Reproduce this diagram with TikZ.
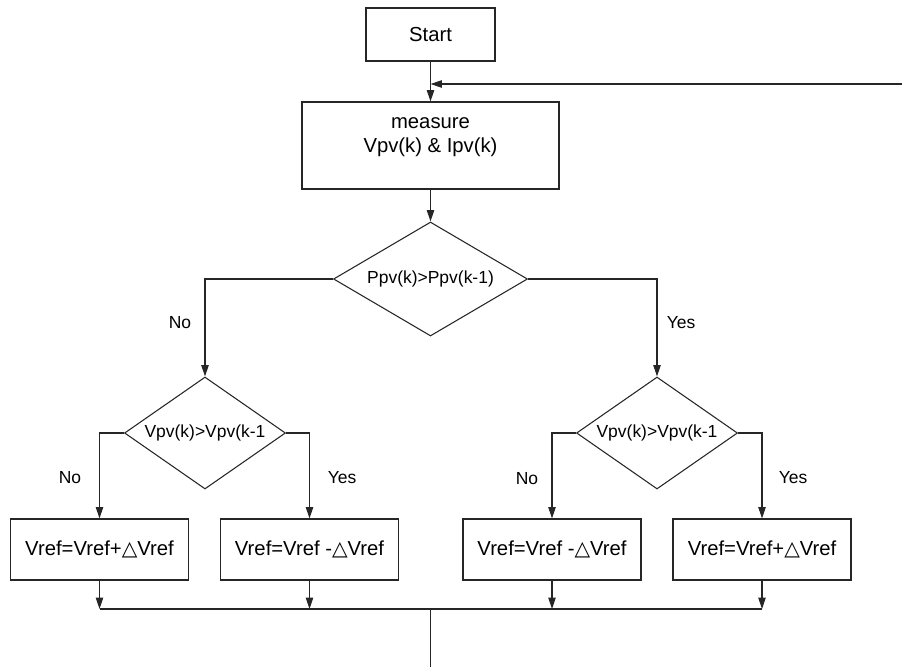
\documentclass[tikz,border=0pt]{standalone}
\usepackage{fontspec}
\setmainfont{Liberation Sans}
\newfontfamily\dvfont{DejaVu Sans}
\usetikzlibrary{shapes.geometric,arrows.meta}
\newcommand{\dtri}{{\dvfont\char"25B3}}
\tikzset{
  x=0.75pt, y=-0.75pt,
  every node/.style={inner sep=0pt},
  small/.style={font=\fontsize{13.1}{18}\selectfont},
  big/.style={font=\fontsize{15.2}{18}\selectfont},
  lin/.style={line width=0.8pt, draw=black!85},
  arr/.style={lin, -{Triangle[length=8.5pt,width=5.5pt]}},
  box/.style={big, draw=black!85, line width=0.8pt, rectangle, minimum width=133.5pt, minimum height=45.75pt},
  decide/.style={small, draw=black!85, line width=0.8pt, diamond, aspect=1.44, minimum width=120.75pt, minimum height=84pt},
  lbl/.style={small}
}
\begin{document}
\begin{tikzpicture}
\useasboundingbox (0,0) rectangle (902,667);
% nodes
\node[box, minimum width=96.75pt, minimum height=39.75pt] (start) at (430.5,34.5) {Start};
\node[box, minimum width=192.75pt, minimum height=65.25pt] (meas) at (430.5,145.5) {};
\node[big, align=center] (meastext) at (430.5,137) {measure\\Vpv(k) \& Ipv(k)};
\node[decide, aspect=1.7, minimum width=145.5pt, minimum height=85.5pt] (d1) at (430.5,279) {Ppv(k)>Ppv(k-1)};
\node[decide] (d2) at (205,433) {Vpv(k)>Vpv(k-1};
\node[decide] (d3) at (657,433) {Vpv(k)>Vpv(k-1};
\node[box] (b1) at (99.5,549.5) {Vref=Vref+\dtri Vref};
\node[box] (b2) at (309.5,549.5) {Vref=Vref -\dtri Vref};
\node[box] (b3) at (552,549.5) {Vref=Vref -\dtri Vref};
\node[box] (b4) at (762,549.5) {Vref=Vref+\dtri Vref};
% labels
\node[lbl] (n1) at (180,323) {No};
\node[lbl] (y1) at (681,323) {Yes};
\node[lbl] (n2) at (70,478) {No};
\node[lbl] (y2) at (342,478) {Yes};
\node[lbl] (n3) at (527,479) {No};
\node[lbl] (y3) at (793,478) {Yes};
% coordinates
\coordinate (fb) at (902,84);
\coordinate (bus) at (0,609);
\coordinate (out) at (430.5,667);
% connectors
\draw[arr] (start.south) -- (meas.north);
\draw[arr] (fb) -- (fb -| meas.north);
\draw[arr] (meas.south) -- (d1.north);
\draw[arr] (d1.west) -| (d2.north);
\draw[arr] (d1.east) -| (d3.north);
\draw[arr] (d2.west) -| (b1.north);
\draw[arr] (d2.east) -| (b2.north);
\draw[arr] (d3.west) -| (b3.north);
\draw[arr] (d3.east) -| (b4.north);
\draw[arr] (b1.south) -- (b1.south |- bus);
\draw[arr] (b2.south) -- (b2.south |- bus);
\draw[arr] (b3.south) -- (b3.south |- bus);
\draw[arr] (b4.south) -- (b4.south |- bus);
\draw[lin] (b1.south |- bus) -- (b4.south |- bus);
\draw[lin] (out |- bus) -- (out);
\end{tikzpicture}
\end{document}
